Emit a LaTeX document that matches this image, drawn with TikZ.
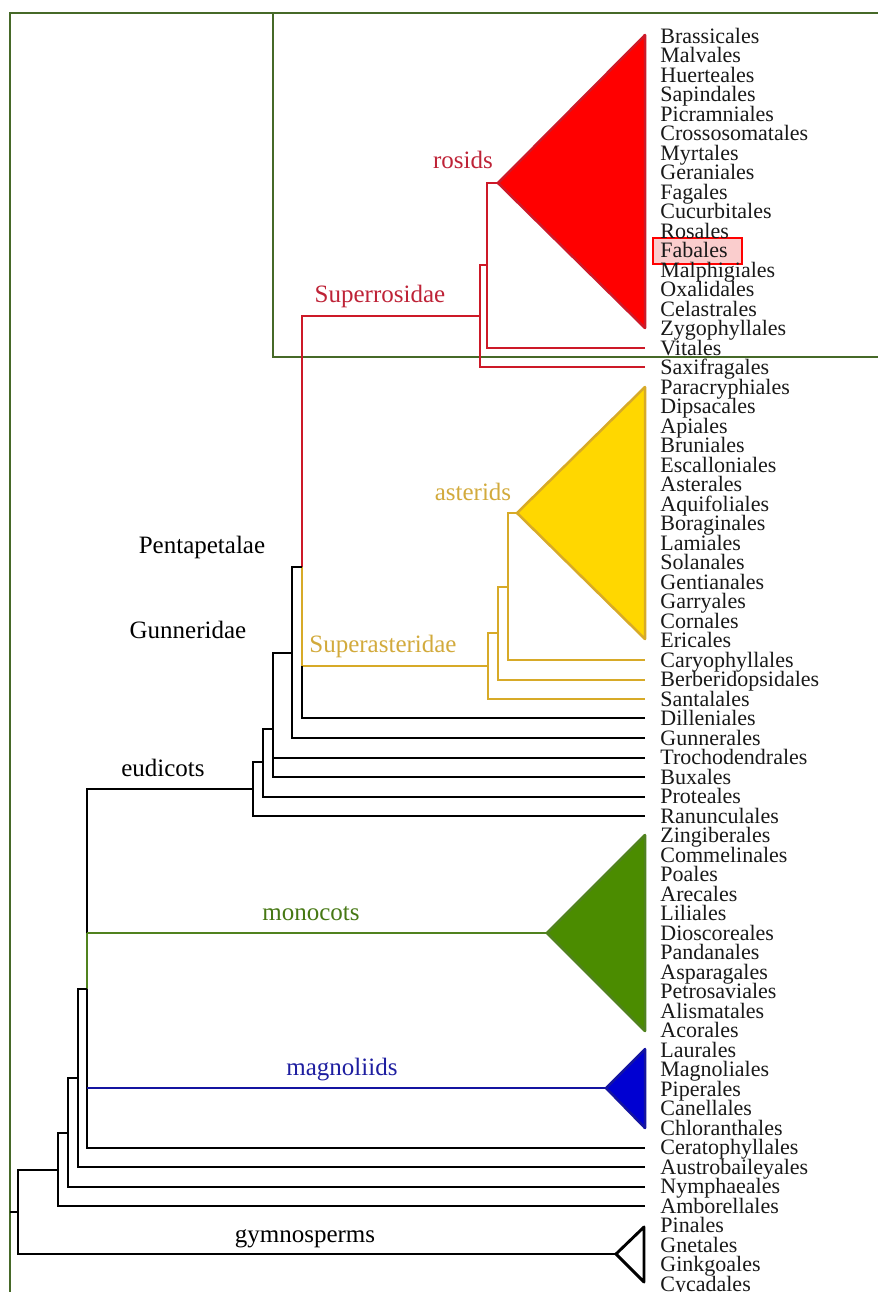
\documentclass[tikz,border=0pt]{standalone}
\usepackage{fontspec}
\setmainfont{Liberation Serif}
\definecolor{framegreen}{RGB}{70,105,40}
\definecolor{redline}{RGB}{205,25,40}
\definecolor{redlabel}{RGB}{190,35,55}
\definecolor{redfill}{RGB}{255,0,0}
\definecolor{goldline}{RGB}{215,170,40}
\definecolor{goldfill}{RGB}{255,215,0}
\definecolor{goldlabel}{RGB}{210,170,60}
\definecolor{greenline}{RGB}{80,130,30}
\definecolor{greenfill}{RGB}{75,140,0}
\definecolor{greenlabel}{RGB}{70,120,20}
\definecolor{blueline}{RGB}{20,20,160}
\definecolor{bluefill}{RGB}{0,0,210}
\definecolor{bluelabel}{RGB}{30,30,160}
\definecolor{fabfill}{RGB}{250,205,205}
\definecolor{leaftext}{RGB}{25,25,25}
\tikzset{
  leaf/.style={anchor=base west, inner sep=0pt, text=leaftext, font=\fontsize{11}{11}\selectfont},
  clade/.style={anchor=base, inner sep=0pt, font=\fontsize{12.5}{12.5}\selectfont},
  blk/.style={draw=black, line width=1.45pt},
  rl/.style={draw=redline, line width=1.25pt},
  gl/.style={draw=goldline, line width=1.25pt},
  grl/.style={draw=greenline, line width=1.25pt},
  bl/.style={draw=blueline, line width=1.25pt},
  tri/.style={line join=round},
}
\begin{document}
\begin{tikzpicture}[x=0.5pt,y=-0.5pt]
\useasboundingbox (0,0) rectangle (878,1292);
% frames
\draw[framegreen, line width=1.1pt] (10,1292) -- (10,13) -- (878,13);
\draw[framegreen, line width=0.9pt] (273,13) -- (273,357) -- (878,357);
% Fabales highlight
\draw[draw=red, fill=fabfill, line width=0.8pt] (653,238) rectangle (742,264);
% leaf labels
\foreach \n [count=\i] in {Brassicales,Malvales,Huerteales,Sapindales,Picramniales,Crossosomatales,Myrtales,Geraniales,Fagales,Cucurbitales,Rosales,Fabales,Malphigiales,Oxalidales,Celastrales,Zygophyllales,Vitales,Saxifragales,Paracryphiales,Dipsacales,Apiales,Bruniales,Escalloniales,Asterales,Aquifoliales,Boraginales,Lamiales,Solanales,Gentianales,Garryales,Cornales,Ericales,Caryophyllales,Berberidopsidales,Santalales,Dilleniales,Gunnerales,Trochodendrales,Buxales,Proteales,Ranunculales,Zingiberales,Commelinales,Poales,Arecales,Liliales,Dioscoreales,Pandanales,Asparagales,Petrosaviales,Alismatales,Acorales,Laurales,Magnoliales,Piperales,Canellales,Chloranthales,Ceratophyllales,Austrobaileyales,Nymphaeales,Amborellales,Pinales,Gnetales,Ginkgoales,Cycadales}
  \node[leaf] (L\i) at (660,{23.5+19.5*\i}) {\n};
% coordinates
\coordinate (rosApex) at (498,183);
\coordinate (rosTop) at (645,35);
\coordinate (rosBot) at (645,328);
\coordinate (nRV) at (487,183);
\coordinate (tVit) at (645,348);
\coordinate (nRVm) at (487,265);
\coordinate (nSR) at (480,265);
\coordinate (tSax) at (645,367);
\coordinate (nSRm) at (480,316);
\coordinate (nPent) at (302,567);
\coordinate (nPentB) at (302,666);
\coordinate (astApex) at (517,513);
\coordinate (astTop) at (645,387);
\coordinate (astBot) at (645,639);
\coordinate (nA1) at (508,513);
\coordinate (tCar) at (645,660);
\coordinate (nA1m) at (508,587);
\coordinate (nA2) at (498,587);
\coordinate (tBer) at (645,680);
\coordinate (nA2m) at (498,633);
\coordinate (nA3) at (488,633);
\coordinate (tSan) at (645,699);
\coordinate (nA3m) at (488,666);
\coordinate (tDil) at (645,718);
\coordinate (nGun) at (292,567);
\coordinate (tGun) at (645,738);
\coordinate (nGunm) at (292,653);
\coordinate (nT) at (273,653);
\coordinate (tBux) at (645,777);
\coordinate (nTt) at (273,758);
\coordinate (tTro) at (645,758);
\coordinate (nTm) at (273,729);
\coordinate (nP) at (263,729);
\coordinate (tPro) at (645,797);
\coordinate (nPm) at (263,762);
\coordinate (nEu) at (253,762);
\coordinate (tRan) at (645,816);
\coordinate (nEum) at (253,789);
\coordinate (nMono) at (87,933);
\coordinate (monoApex) at (547,933);
\coordinate (monoTop) at (645,835);
\coordinate (monoBot) at (645,1031);
\coordinate (nAng) at (87,989);
\coordinate (nMag) at (87,1088);
\coordinate (magApex) at (606,1088);
\coordinate (magTop) at (645,1049);
\coordinate (magBot) at (645,1128);
\coordinate (tCer) at (645,1148);
\coordinate (nA) at (78,989);
\coordinate (tAus) at (645,1167);
\coordinate (nAm) at (78,1078);
\coordinate (nN) at (68,1078);
\coordinate (tNym) at (645,1187);
\coordinate (nNm) at (68,1133);
\coordinate (nAmb) at (58,1133);
\coordinate (tAmb) at (645,1206);
\coordinate (nAmbm) at (58,1170);
\coordinate (nRoot) at (18,1170);
\coordinate (gymApex) at (616,1254);
\coordinate (gymTop) at (644,1227);
\coordinate (gymBot) at (644,1282);
\coordinate (rootStub) at (10,1212);
\coordinate (nRootm) at (18,1212);
% red branches
\draw[rl] (rosApex) -- (nRV) |- (tVit);
\draw[rl] (nRVm) -- (nSR) |- (tSax);
\draw[rl] (nSRm) -| (nPent);
\draw[rl, fill=redfill, tri] (rosApex) -- (rosTop) -- (rosBot) -- cycle;
% gold branches
\draw[gl] (astApex) -- (nA1) |- (tCar);
\draw[gl] (nA1m) -- (nA2) |- (tBer);
\draw[gl] (nA2m) -- (nA3) |- (tSan);
\draw[gl] (nA3m) -| (nPent);
\draw[gl, fill=goldfill, tri] (astApex) -- (astTop) -- (astBot) -- cycle;
% black branches
\draw[blk] (nPentB) |- (tDil);
\draw[blk] (nPent) -- (nGun) |- (tGun);
\draw[blk] (nGunm) -- (nT) |- (tBux);
\draw[blk] (nTt) -- (tTro);
\draw[blk] (nTm) -- (nP) |- (tPro);
\draw[blk] (nPm) -- (nEu) |- (tRan);
\draw[blk] (nEum) -| (nMono);
\draw[grl] (nMono) -- (monoApex);
\draw[grl] (nMono) -- (nAng);
\draw[grl, fill=greenfill, tri] (monoApex) -- (monoTop) -- (monoBot) -- cycle;
\draw[blk] (nAng) |- (tCer);
\draw[bl] (nMag) -- (magApex);
\draw[bl, fill=bluefill, tri] (magApex) -- (magTop) -- (magBot) -- cycle;
\draw[blk] (nAng) -- (nA) |- (tAus);
\draw[blk] (nAm) -- (nN) |- (tNym);
\draw[blk] (nNm) -- (nAmb) |- (tAmb);
\draw[blk] (nAmbm) -- (nRoot) |- (gymApex);
\draw[blk] (rootStub) -- (nRootm);
\draw[blk, tri] (gymApex) -- (gymTop) -- (gymBot) -- cycle;
% clade labels
\node[clade, text=redlabel] (rosids) at (463,168) {rosids};
\node[clade, text=redlabel] (superros) at (380,302) {Superrosidae};
\node[clade, text=goldlabel] (asterids) at (473,500) {asterids};
\node[clade, text=goldlabel] (superast) at (383,652) {Superasteridae};
\node[clade] (pentap) at (202,553) {Pentapetalae};
\node[clade] (gunner) at (188,638) {Gunneridae};
\node[clade] (eudic) at (163,776) {eudicots};
\node[clade, text=greenlabel] (monoc) at (311,920) {monocots};
\node[clade, text=bluelabel] (magno) at (342,1075) {magnoliids};
\node[clade] (gymno) at (305,1242) {gymnosperms};
\end{tikzpicture}
\end{document}
